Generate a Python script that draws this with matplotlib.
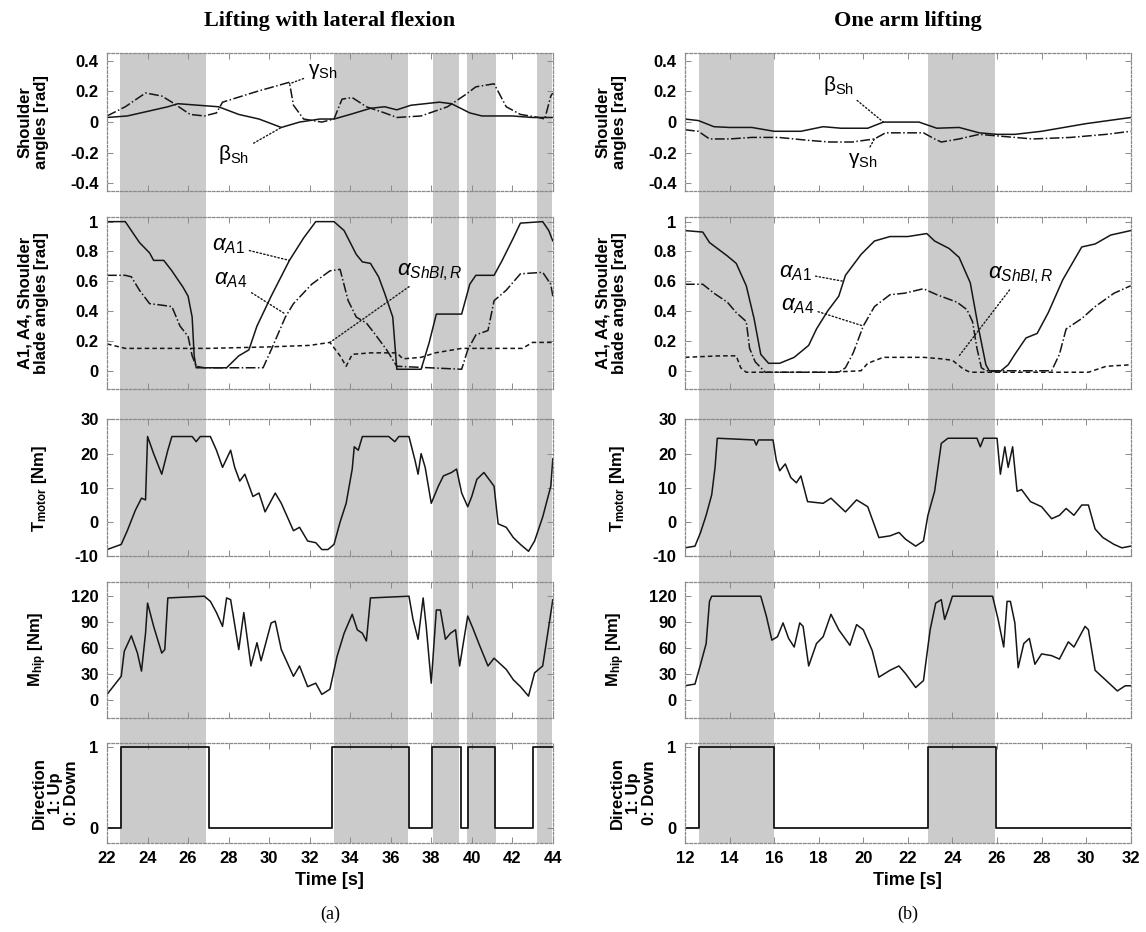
import matplotlib
matplotlib.use("Agg")
import matplotlib.pyplot as plt
from matplotlib.patches import Rectangle
from matplotlib.transforms import blended_transform_factory

plt.rcParams['font.family'] = ['Liberation Sans', 'DejaVu Sans']
plt.rcParams['mathtext.fontset'] = 'custom'
plt.rcParams['mathtext.rm'] = 'Liberation Sans'
plt.rcParams['mathtext.it'] = 'Liberation Sans:italic'
plt.rcParams['mathtext.bf'] = 'Liberation Sans:bold'

# ---------------- (a) lifting with lateral flexion ----------------
bands_a = [(22.65, 26.9), (33.2, 36.85), (38.08, 39.39), (39.75, 41.2), (43.2, 43.95)]

beta_a = [(22, 0.03), (23, 0.04), (24, 0.07), (25, 0.1), (25.5, 0.12), (26.5, 0.11), (27.5, 0.1),
          (28.5, 0.05), (29.5, 0.02), (30.6, -0.035), (31.5, 0.0), (32.5, 0.02), (33.2, 0.02),
          (34, 0.05), (35, 0.09), (35.7, 0.1), (36.3, 0.08), (37, 0.11), (38.4, 0.13), (39, 0.12),
          (39.9, 0.06), (40.5, 0.04), (42, 0.04), (43, 0.03), (44, 0.03)]
gamma_a = [(22, 0.04), (22.9, 0.1), (23.9, 0.19), (24.7, 0.17), (25.2, 0.13), (26.1, 0.05), (26.8, 0.04),
           (27.4, 0.06), (27.7, 0.13), (29.4, 0.2), (31.0, 0.26), (31.2, 0.11), (31.7, 0.02), (32.6, 0.0),
           (33.2, 0.02), (33.6, 0.15), (34.1, 0.16), (34.8, 0.1), (35.7, 0.06), (36.3, 0.03), (37.5, 0.04),
           (38.8, 0.1), (39.7, 0.18), (40.2, 0.23), (41.1, 0.25), (41.7, 0.1), (42.4, 0.05), (43.3, 0.03),
           (43.6, 0.02), (43.9, 0.17), (44, 0.19)]

a1_a = [(22, 1.0), (22.9, 1.0), (23.6, 0.86), (24.1, 0.79), (24.3, 0.74), (24.8, 0.74), (25.2, 0.67),
        (25.75, 0.56), (26.0, 0.5), (26.2, 0.36), (26.3, 0.1), (26.4, 0.02), (27.9, 0.02), (28.5, 0.1),
        (29.0, 0.14), (29.4, 0.3), (30.1, 0.5), (31.0, 0.74), (31.7, 0.89), (32.3, 1.0), (33.2, 1.0),
        (33.7, 0.94), (34.3, 0.78), (34.6, 0.73), (35.0, 0.72), (35.4, 0.63), (35.7, 0.52), (36.1, 0.36),
        (36.3, 0.01), (37.5, 0.01), (37.9, 0.19), (38.25, 0.38), (39.5, 0.38), (39.9, 0.58), (40.2, 0.64),
        (41.1, 0.64), (41.5, 0.74), (42.05, 0.89), (42.4, 0.99), (43.5, 1.0), (43.8, 0.94), (44, 0.87)]
a4_a = [(22, 0.64), (22.9, 0.64), (23.2, 0.63), (23.6, 0.54), (24.1, 0.45), (24.7, 0.44), (25.2, 0.43),
        (25.6, 0.3), (26.0, 0.23), (26.2, 0.1), (26.4, 0.03), (26.8, 0.02), (29.7, 0.02), (30.1, 0.14),
        (30.8, 0.36), (31.2, 0.45), (32.1, 0.58), (33.0, 0.67), (33.5, 0.68), (33.9, 0.47), (34.3, 0.36),
        (34.8, 0.32), (35.2, 0.25), (35.8, 0.14), (36.3, 0.03), (39.5, 0.01), (39.8, 0.14), (40.2, 0.24),
        (40.8, 0.27), (41.1, 0.47), (41.7, 0.54), (42.4, 0.65), (43.5, 0.66), (43.9, 0.58), (44, 0.5)]
shbl_a = [(22, 0.18), (22.9, 0.15), (24, 0.15), (27, 0.15), (30, 0.16), (32, 0.17), (33.0, 0.19),
          (33.5, 0.1), (33.8, 0.03), (34.1, 0.11), (35, 0.12), (36.3, 0.12), (36.6, 0.08), (37.5, 0.09),
          (38.2, 0.12), (39.5, 0.15), (42.5, 0.15), (43.0, 0.19), (44, 0.19)]

tmot_a = [(22, -8), (22.7, -6.5), (23.0, -2.5), (23.4, 3.5), (23.7, 7), (23.9, 6.5), (24.0, 25), (24.3, 20),
          (24.7, 14), (25.0, 21), (25.2, 25), (26.2, 25), (26.4, 23.5), (26.6, 25), (27.1, 25), (27.4, 21),
          (27.7, 16), (28.1, 21), (28.3, 16), (28.55, 12), (28.8, 14), (29.2, 7.5), (29.5, 8.5), (29.8, 3),
          (30.3, 8.5), (30.6, 5.5), (31.2, -2.5), (31.5, -1.5), (31.9, -5.5), (32.3, -6), (32.6, -8),
          (32.9, -8), (33.2, -6.5), (33.5, 0), (33.8, 5.5), (34.1, 15.5), (34.2, 22), (34.4, 21), (34.6, 25),
          (35.9, 25), (36.2, 23.5), (36.4, 25), (36.9, 25), (37.2, 18), (37.35, 14), (37.5, 20), (37.7, 16),
          (38.0, 5.5), (38.35, 10.5), (38.6, 13.5), (39.0, 14.5), (39.25, 15.5), (39.5, 8.5), (39.8, 4.5),
          (40.0, 7.5), (40.25, 12.5), (40.6, 14.5), (41.1, 10.5), (41.3, -0.5), (41.7, -1.5), (42.05, -4.5),
          (42.4, -6.5), (42.8, -8.5), (43.1, -5.5), (43.5, 1.5), (43.9, 10.5), (44, 18.5)]

mhip_a = [(22.0, 6), (22.7, 27), (22.85, 56), (23.2, 74), (23.5, 54), (23.7, 33), (23.9, 77), (24.0, 112),
          (24.3, 85), (24.7, 54), (24.85, 58), (25.0, 118), (26.8, 120), (27.1, 114), (27.4, 101), (27.7, 85),
          (27.9, 118), (28.1, 116), (28.5, 58), (28.75, 101), (29.1, 39), (29.4, 66), (29.6, 45), (30.1, 89),
          (30.3, 91), (30.6, 58), (31.2, 27), (31.5, 39), (31.9, 15), (32.3, 19), (32.6, 6), (33.0, 12),
          (33.35, 50), (33.7, 77), (34.1, 99), (34.35, 81), (34.6, 77), (34.8, 68), (35.0, 118), (36.9, 120),
          (37.1, 93), (37.35, 70), (37.6, 118), (37.75, 85), (38.0, 19), (38.25, 104), (38.45, 104),
          (38.7, 70), (38.95, 77), (39.2, 81), (39.4, 39), (39.8, 97), (40.05, 83), (40.4, 62), (40.8, 39),
          (41.1, 48), (41.7, 35), (42.05, 23), (42.4, 15), (42.8, 4), (43.1, 31), (43.5, 39), (43.8, 85),
          (44, 116)]

dir_a_t = [22, 22.7, 27.05, 33.1, 36.9, 38.05, 39.45, 39.8, 41.15, 43.0, 44]
dir_a = [0, 1, 0, 1, 0, 1, 0, 1, 0, 1, 1]

# ---------------- (b) one arm lifting ----------------
bands_b = [(12.65, 16.0), (22.9, 25.9)]

beta_b = [(12, 0.02), (12.6, 0.01), (13.3, -0.03), (14, -0.035), (15, -0.035), (16, -0.06), (17.2, -0.06),
          (18.2, -0.03), (19, -0.04), (20.2, -0.04), (20.9, 0.0), (22.5, 0.0), (23.3, -0.04), (24.3, -0.035),
          (25.2, -0.07), (26, -0.08), (26.8, -0.08), (28, -0.06), (30, -0.01), (32, 0.03)]
gamma_b = [(12, -0.05), (12.6, -0.06), (13.1, -0.11), (14, -0.11), (15, -0.1), (16.2, -0.1), (17.6, -0.12),
           (18.5, -0.13), (19.5, -0.13), (20.5, -0.11), (21, -0.07), (22.7, -0.07), (23.2, -0.11),
           (23.5, -0.13), (24.3, -0.11), (25.2, -0.08), (26, -0.09), (26.8, -0.1), (27.6, -0.11),
           (29.3, -0.1), (30.9, -0.08), (32, -0.06)]

a1_b = [(12, 0.94), (12.8, 0.93), (13.1, 0.86), (13.9, 0.77), (14.3, 0.72), (14.75, 0.57), (15.1, 0.35),
        (15.4, 0.11), (15.75, 0.05), (16.25, 0.05), (16.9, 0.09), (17.55, 0.17), (17.9, 0.28), (18.4, 0.4),
        (18.9, 0.5), (19.2, 0.64), (19.9, 0.78), (20.5, 0.87), (21.2, 0.9), (22.0, 0.9), (22.85, 0.92),
        (23.2, 0.87), (23.85, 0.82), (24.3, 0.76), (24.8, 0.59), (25.15, 0.3), (25.5, 0.04), (25.65, 0.0),
        (26.1, -0.01), (26.5, 0.04), (26.8, 0.11), (27.3, 0.22), (27.8, 0.25), (28.3, 0.39), (28.95, 0.61),
        (29.8, 0.83), (30.4, 0.85), (31.1, 0.91), (32, 0.94)]
a4_b = [(12, 0.58), (12.8, 0.58), (13.3, 0.52), (13.9, 0.46), (14.3, 0.39), (14.75, 0.33), (14.9, 0.15),
        (15.15, 0.06), (15.6, -0.01), (18.9, -0.01), (19.2, 0.02), (19.55, 0.12), (20.0, 0.3), (20.5, 0.43),
        (21.2, 0.51), (21.85, 0.52), (22.7, 0.55), (23.3, 0.51), (24.2, 0.46), (24.65, 0.41), (24.9, 0.33),
        (25.1, 0.15), (25.3, 0.02), (25.5, 0.0), (28.45, 0.0), (28.8, 0.11), (29.1, 0.28), (29.8, 0.35),
        (30.4, 0.43), (31.25, 0.52), (32, 0.57)]
shbl_b = [(12, 0.09), (13.6, 0.1), (14.3, 0.1), (14.5, 0.02), (14.75, -0.01), (18.55, -0.01), (19.9, 0.0),
          (20.2, 0.05), (20.9, 0.09), (22.7, 0.09), (23.5, 0.08), (24.0, 0.07), (24.5, 0.01), (24.8, -0.01),
          (30.1, -0.01), (30.9, 0.03), (32, 0.04)]

tmot_b = [(12, -7.5), (12.45, -7), (12.7, -3), (12.95, 2), (13.2, 8), (13.35, 16), (13.45, 24.5), (15.1, 24),
          (15.2, 22.5), (15.3, 24), (15.95, 24), (16.1, 18), (16.25, 15), (16.5, 17), (16.75, 13), (17.0, 11.5),
          (17.2, 13.5), (17.5, 6), (18.2, 5.5), (18.55, 7), (19.2, 3), (19.7, 6.5), (20.2, 4.5), (20.7, -4.5),
          (21.2, -4), (21.6, -3), (21.9, -5), (22.35, -7), (22.7, -5.5), (22.9, 2), (23.2, 9), (23.35, 16),
          (23.5, 23), (23.8, 24.5), (25.1, 24.5), (25.25, 22), (25.4, 24.5), (26.0, 24.5), (26.15, 14),
          (26.35, 22), (26.5, 16), (26.7, 22), (26.9, 9), (27.1, 9.5), (27.5, 6), (28.0, 4.5), (28.45, 1),
          (28.8, 2), (29.1, 4), (29.45, 2), (29.8, 5), (30.1, 5), (30.4, -2), (30.75, -4.5), (31.25, -6.5),
          (31.6, -7.5), (32, -7)]

mhip_b = [(12, 16), (12.45, 18), (12.7, 41), (12.95, 65), (13.1, 114), (13.2, 120), (15.4, 120), (15.65, 97),
          (15.9, 69), (16.15, 73), (16.4, 89), (16.65, 71), (16.9, 61), (17.15, 89), (17.3, 85), (17.55, 39),
          (17.9, 65), (18.2, 73), (18.55, 99), (18.9, 81), (19.4, 63), (19.7, 87), (20.0, 81), (20.4, 57),
          (20.7, 26), (21.2, 34), (21.6, 39), (21.9, 30), (22.35, 14), (22.7, 22), (23.0, 81), (23.25, 112),
          (23.5, 116), (23.65, 93), (23.8, 104), (24.0, 120), (25.8, 120), (26.05, 93), (26.3, 61),
          (26.45, 114), (26.6, 114), (26.8, 89), (26.95, 37), (27.2, 65), (27.45, 71), (27.7, 41), (28.0, 53),
          (28.45, 51), (28.8, 47), (29.2, 67), (29.45, 61), (29.95, 85), (30.1, 81), (30.4, 34), (30.9, 22),
          (31.4, 10), (31.75, 16), (32, 16)]

dir_b_t = [12, 12.65, 16.0, 22.9, 25.95, 32]
dir_b = [0, 1, 0, 1, 0, 0]

# ---------------- layout ----------------
rows = [(0.795, 0.148), (0.583, 0.184), (0.403, 0.147), (0.230, 0.146), (0.0955, 0.107)]
col_left = [0.0934, 0.5977]
col_w = 0.389

ylims = [(-0.45, 0.45), (-0.12, 1.03), (-10, 30), (-21, 137), (-0.18, 1.04)]
yticks = [[-0.4, -0.2, 0, 0.2, 0.4], [0, 0.2, 0.4, 0.6, 0.8, 1], [-10, 0, 10, 20, 30],
          [0, 30, 60, 90, 120], [0, 1]]
yticklabels = [['-0.4', '-0.2', '0', '0.2', '0.4'], ['0', '0.2', '0.4', '0.6', '0.8', '1'],
               ['-10', '0', '10', '20', '30'], ['0', '30', '60', '90', '120'], ['0', '1']]
ylabels = ['Shoulder\nangles [rad]', 'A1, A4, Shoulder\nblade angles [rad]',
           r'T$_{\mathbf{motor}}$ [Nm]', r'M$_{\mathbf{hip}}$ [Nm]', 'Direction\n1: Up\n0: Down']
ylabel_x = [-0.13, -0.13, -0.13, -0.13, -0.062]

fig = plt.figure(figsize=(11.46, 9.32), dpi=100)

LC = '#161616'
SHADE = '#cbcbcb'


def xy(pairs):
    return [p[0] for p in pairs], [p[1] for p in pairs]


def make_column(ci, xlim, xt, bands):
    axes = []
    for ri, (b, h) in enumerate(rows):
        ax = fig.add_axes([col_left[ci], b, col_w, h])
        ax.set_facecolor('none')
        ax.set_xlim(*xlim)
        ax.set_ylim(*ylims[ri])
        ax.set_xticks(xt)
        ax.set_yticks(yticks[ri])
        ax.set_yticklabels(yticklabels[ri], fontsize=12, fontweight='bold')
        ax.tick_params(direction='in', top=True, right=True, length=4, width=0.7,
                       color='#8a8a8a', pad=6)
        for s in ax.spines.values():
            s.set_color('#8a8a8a')
            s.set_linestyle((0, (2, 1.5)))
            s.set_linewidth(0.9)
        if ri < 4:
            ax.set_xticklabels([])
        else:
            ax.set_xticklabels([str(v) for v in xt], fontsize=12, fontweight='bold')
            ax.set_xlabel('Time [s]', fontsize=13, fontweight='bold', labelpad=4)
        ax.set_ylabel(ylabels[ri], fontsize=12, fontweight='bold', linespacing=1.1)
        ax.yaxis.set_label_coords(ylabel_x[ri], 0.5)
        axes.append(ax)
    # grey phases spanning the whole column
    top = rows[0][0] + rows[0][1]
    bot = rows[4][0]
    tr = blended_transform_factory(axes[0].transData, fig.transFigure)
    for x0, x1 in bands:
        fig.add_artist(Rectangle((x0, bot), x1 - x0, top - bot, transform=tr,
                                 facecolor=SHADE, edgecolor='none', zorder=-1))
    return axes


def pointer(ax, text, txy, xy_end, size=15):
    ax.annotate(text, xy=xy_end, xytext=txy, fontsize=size, ha='left', va='center',
                arrowprops=dict(arrowstyle='-', linestyle=':', lw=1.0, color=LC,
                                shrinkA=1, shrinkB=0))


# column (a)
axa = make_column(0, (22, 44), list(range(22, 45, 2)), bands_a)
t, v = xy(beta_a); axa[0].plot(t, v, '-', color=LC, lw=1.1)
t, v = xy(gamma_a); axa[0].plot(t, v, '-.', color=LC, lw=1.1)
pointer(axa[0], r'$\mathrm{\gamma_{Sh}}$', (31.9, 0.33), (31.0, 0.25))
pointer(axa[0], r'$\mathrm{\beta_{Sh}}$', (27.5, -0.21), (30.6, -0.035))

t, v = xy(a1_a); axa[1].plot(t, v, '-', color=LC, lw=1.1)
t, v = xy(a4_a); axa[1].plot(t, v, '-.', color=LC, lw=1.1)
t, v = xy(shbl_a); axa[1].plot(t, v, '--', color=LC, lw=1.1, dashes=(3, 2))
pointer(axa[1], r'$\alpha_{A1}$', (27.2, 0.84), (31.0, 0.74), 16)
pointer(axa[1], r'$\alpha_{A4}$', (27.3, 0.61), (30.8, 0.38), 16)
pointer(axa[1], r'$\alpha_{ShBl,R}$', (36.3, 0.66), (33.0, 0.19), 16)

t, v = xy(tmot_a); axa[2].plot(t, v, '-', color=LC, lw=1.1)
t, v = xy(mhip_a); axa[3].plot(t, v, '-', color=LC, lw=1.1)
axa[4].step(dir_a_t, dir_a, where='post', color=LC, lw=1.3)

# column (b)
axb = make_column(1, (12, 32), list(range(12, 33, 2)), bands_b)
t, v = xy(beta_b); axb[0].plot(t, v, '-', color=LC, lw=1.1)
t, v = xy(gamma_b); axb[0].plot(t, v, '-.', color=LC, lw=1.1)
pointer(axb[0], r'$\mathrm{\beta_{Sh}}$', (18.2, 0.24), (20.9, 0.0))
pointer(axb[0], r'$\mathrm{\gamma_{Sh}}$', (19.3, -0.25), (20.5, -0.11))

t, v = xy(a1_b); axb[1].plot(t, v, '-', color=LC, lw=1.1)
t, v = xy(a4_b); axb[1].plot(t, v, '-.', color=LC, lw=1.1)
t, v = xy(shbl_b); axb[1].plot(t, v, '--', color=LC, lw=1.1, dashes=(3, 2))
pointer(axb[1], r'$\alpha_{A1}$', (16.2, 0.66), (19.1, 0.6), 16)
pointer(axb[1], r'$\alpha_{A4}$', (16.3, 0.44), (20.0, 0.3), 16)
pointer(axb[1], r'$\alpha_{ShBl,R}$', (25.6, 0.64), (24.3, 0.1), 16)

t, v = xy(tmot_b); axb[2].plot(t, v, '-', color=LC, lw=1.1)
t, v = xy(mhip_b); axb[3].plot(t, v, '-', color=LC, lw=1.1)
axb[4].step(dir_b_t, dir_b, where='post', color=LC, lw=1.3)

# titles and captions
for ci, (title, cap) in enumerate([('Lifting with lateral flexion', '(a)'), ('One arm lifting', '(b)')]):
    xc = col_left[ci] + col_w / 2
    fig.text(xc, 0.977, title, ha='center', va='center', fontsize=16, fontweight='bold',
             family='Liberation Serif')
    fig.text(xc, 0.019, cap, ha='center', va='center', fontsize=13, family='Liberation Serif')

fig.savefig('out.png', dpi=100)
